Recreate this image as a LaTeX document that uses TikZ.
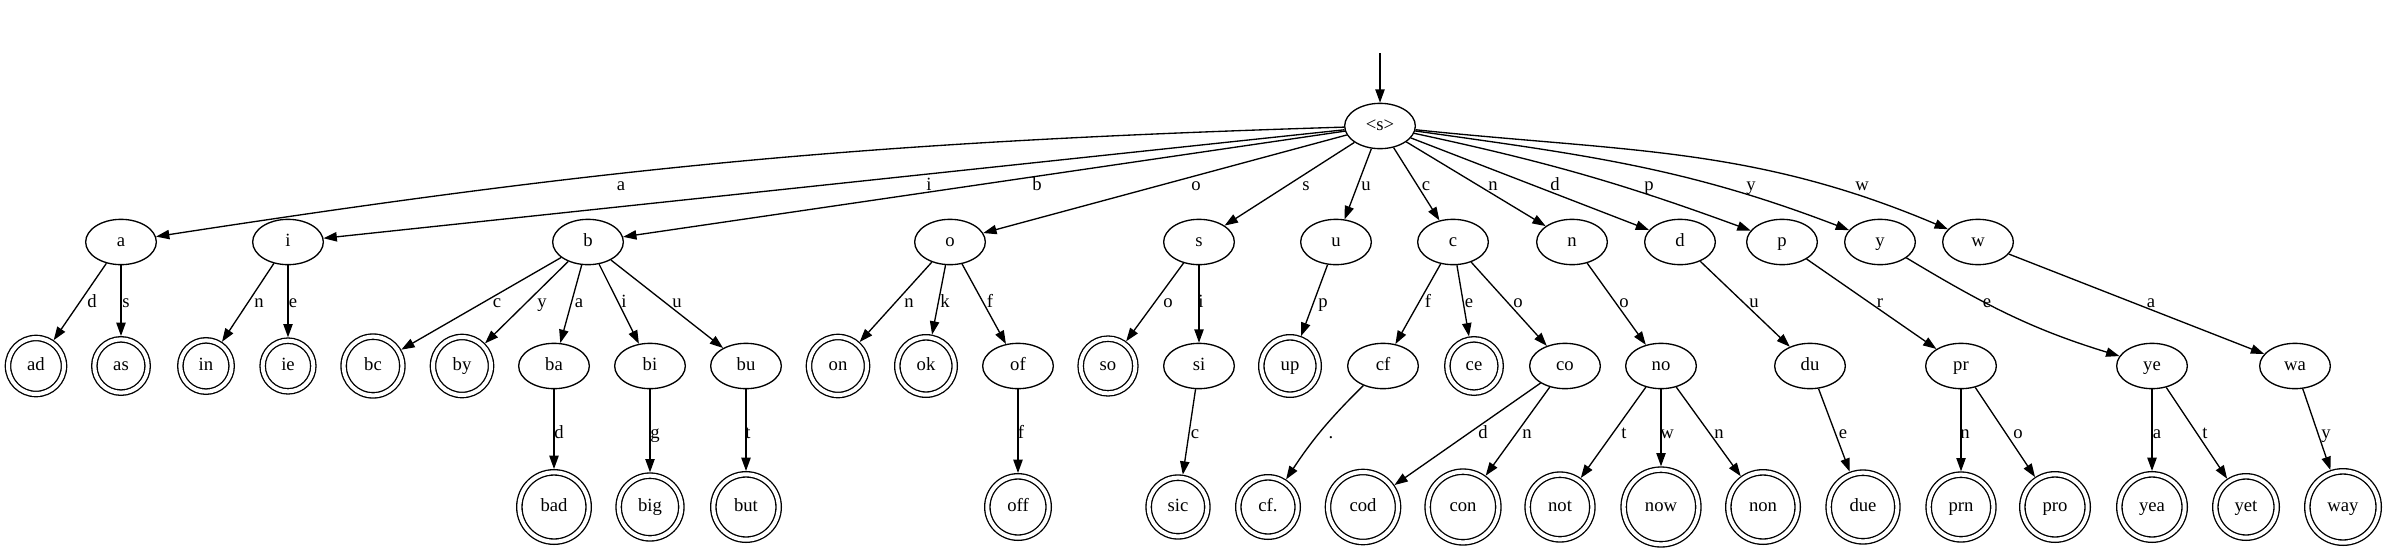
\documentclass[tikz,border=0pt]{standalone}
\usepackage{fontspec}
\setmainfont{Liberation Serif}
\usetikzlibrary{arrows.meta,shapes.geometric}

\begin{document}
\begin{tikzpicture}[x=0.75pt,y=0.75pt,line width=1pt]

    \tikzset{
      trie/.style={
        draw,
        ellipse,
        inner sep=0pt,
        minimum width=53pt,
        minimum height=34pt,
        font=\fontsize{14}{16}\selectfont,
        text height=9.5pt,
        text depth=2.5pt,
      },
      word/.style={
        draw,
        circle,
        double,
        double distance=3pt,
        outer sep=2.5pt,
        inner sep=0pt,
        minimum size=#1,
        font=\fontsize{14}{16}\selectfont,
        text height=9.5pt,
        text depth=2.5pt,
      },
      lbl/.style={
        anchor=base,
        inner sep=0pt,
        font=\fontsize{14}{16}\selectfont,
      },
      link/.style={->,>={Triangle[length=10pt,width=7pt]}},
    }
    \useasboundingbox (0,0) rectangle (2388,-554);

	\coordinate (start) at (1380,-53);
	\node[trie] (root) at (1380,-126) {\textless s\textgreater};

	\node[trie] (a) at (121,-242) {a};
	\node[trie] (i) at (288,-242) {i};
	\node[trie] (b) at (588,-242) {b};
	\node[trie] (o) at (950,-242) {o};
	\node[trie] (s) at (1199,-242) {s};
	\node[trie] (u) at (1336,-242) {u};
	\node[trie] (c) at (1453,-242) {c};
	\node[trie] (n) at (1572,-242) {n};
	\node[trie] (d) at (1680,-242) {d};
	\node[trie] (p) at (1782,-242) {p};
	\node[trie] (y) at (1880,-242) {y};
	\node[trie] (w) at (1978,-242) {w};

	\node[word=42pt] (ad) at (36,-366) {ad};
	\node[word=40pt] (as) at (121,-366) {as};
	\node[word=38.5pt] (in) at (206,-366) {in};
	\node[word=38pt] (ie) at (288,-366) {ie};
	\node[word=44pt] (bc) at (373,-366) {bc};
	\node[word=43.5pt] (by) at (462,-366) {by};
	\node[trie] (ba) at (554,-366) {ba};
	\node[trie] (bi) at (650,-366) {bi};
	\node[trie] (bu) at (746,-366) {bu};
	\node[word=43.5pt] (on) at (838,-366) {on};
	\node[word=43pt] (ok) at (926,-366) {ok};
	\node[trie] (of) at (1018,-366) {of};
	\node[word=41pt] (so) at (1108,-366) {so};
	\node[trie] (si) at (1199,-366) {si};
	\node[word=43pt] (up) at (1290,-366) {up};
	\node[trie] (cf) at (1383,-366) {cf};
	\node[word=40pt] (ce) at (1474,-366) {ce};
	\node[trie] (co) at (1565,-366) {co};
	\node[trie] (no) at (1661,-366) {no};
	\node[trie] (du) at (1810,-366) {du};
	\node[trie] (pr) at (1961,-366) {pr};
	\node[trie] (ye) at (2152,-366) {ye};
	\node[trie] (wa) at (2295,-366) {wa};

	\node[word=52pt] (bad) at (554,-507) {bad};
	\node[word=47pt] (big) at (650,-507) {big};
	\node[word=49pt] (but) at (746,-507) {but};
	\node[word=46pt] (off) at (1018,-507) {off};
	\node[word=44pt] (sic) at (1178,-507) {sic};
	\node[word=44.5pt] (cfp) at (1268,-507) {cf.};
	\node[word=52.5pt] (cod) at (1363,-507) {cod};
	\node[word=53pt] (con) at (1463,-507) {con};
	\node[word=48.5pt] (not) at (1560,-507) {not};
	\node[word=56pt] (now) at (1661,-507) {now};
	\node[word=52pt] (non) at (1763,-507) {non};
	\node[word=51.5pt] (due) at (1863,-507) {due};
	\node[word=48.5pt] (prn) at (1961,-507) {prn};
	\node[word=49pt] (pro) at (2055,-507) {pro};
	\node[word=49pt] (yea) at (2152,-507) {yea};
	\node[word=46pt] (yet) at (2246,-507) {yet};
	\node[word=53.5pt] (way) at (2343,-507) {way};

	\draw[link] (start) -- (root);
	\draw[link] (root) to[bend right=3.5] (a);
	\draw[link] (root) -- (i);
	\draw[link] (root) -- (b);
	\draw[link] (root) -- (o);
	\draw[link] (root) -- (s);
	\draw[link] (root) -- (u);
	\draw[link] (root) -- (c);
	\draw[link] (root) -- (n);
	\draw[link] (root) -- (d);
	\draw[link] (root) to[bend left=4] (p);
	\draw[link] (root) to[out=-8,in=159] (y);
	\draw[link] (root) to[out=-6,in=157] (w);

	\draw[link] (a) -- (ad);
	\draw[link] (a) -- (as);
	\draw[link] (i) -- (in);
	\draw[link] (i) -- (ie);
	\draw[link] (b) -- (bc);
	\draw[link] (b) -- (by);
	\draw[link] (b) -- (ba);
	\draw[link] (b) -- (bi);
	\draw[link] (b) -- (bu);
	\draw[link] (o) -- (on);
	\draw[link] (o) -- (ok);
	\draw[link] (o) -- (of);
	\draw[link] (s) -- (so);
	\draw[link] (s) -- (si);
	\draw[link] (u) -- (up);
	\draw[link] (c) -- (cf);
	\draw[link] (c) -- (ce);
	\draw[link] (c) -- (co);
	\draw[link] (n) -- (no);
	\draw[link] (d) -- (du);
	\draw[link] (p) -- (pr);
	\draw[link] (y) to[out=-31,in=163] (ye);
	\draw[link] (w) -- (wa);

	\draw[link] (ba) -- (bad);
	\draw[link] (bi) -- (big);
	\draw[link] (bu) -- (but);
	\draw[link] (of) -- (off);
	\draw[link] (si) -- (sic);
	\draw[link] (cf) to[bend right=6] (cfp);
	\draw[link] (co) -- (cod);
	\draw[link] (co) -- (con);
	\draw[link] (no) -- (not);
	\draw[link] (no) -- (now);
	\draw[link] (no) -- (non);
	\draw[link] (du) -- (due);
	\draw[link] (pr) -- (prn);
	\draw[link] (pr) -- (pro);
	\draw[link] (ye) -- (yea);
	\draw[link] (ye) -- (yet);
	\draw[link] (wa) -- (way);

	\node[lbl] (la) at (621,-190) {a};
	\node[lbl] (li) at (929,-190) {i};
	\node[lbl] (lb) at (1037,-190) {b};
	\node[lbl] (lo) at (1196,-190) {o};
	\node[lbl] (ls) at (1306,-190) {s};
	\node[lbl] (lu) at (1366,-190) {u};
	\node[lbl] (lc) at (1426,-190) {c};
	\node[lbl] (ln) at (1493,-190) {n};
	\node[lbl] (ld) at (1555,-190) {d};
	\node[lbl] (lp) at (1649,-190) {p};
	\node[lbl] (ly) at (1751,-190) {y};
	\node[lbl] (lw) at (1862,-190) {w};

	\node[lbl] (lad) at (92,-307) {d};
	\node[lbl] (las) at (126,-307) {s};
	\node[lbl] (lin) at (259,-307) {n};
	\node[lbl] (lie) at (293,-307) {e};
	\node[lbl] (lbc) at (497,-307) {c};
	\node[lbl] (lby) at (542,-307) {y};
	\node[lbl] (lba) at (579,-307) {a};
	\node[lbl] (lbi) at (624,-307) {i};
	\node[lbl] (lbu) at (677,-307) {u};
	\node[lbl] (lon) at (909,-307) {n};
	\node[lbl] (lok) at (945,-307) {k};
	\node[lbl] (lof) at (990,-307) {f};
	\node[lbl] (lso) at (1168,-307) {o};
	\node[lbl] (lsi) at (1201,-307) {i};
	\node[lbl] (lup) at (1323,-307) {p};
	\node[lbl] (lcf) at (1428,-307) {f};
	\node[lbl] (lce) at (1469,-307) {e};
	\node[lbl] (lco) at (1518,-307) {o};
	\node[lbl] (lno) at (1624,-307) {o};
	\node[lbl] (ldu) at (1754,-307) {u};
	\node[lbl] (lpr) at (1880,-307) {r};
	\node[lbl] (lye) at (1987,-307) {e};
	\node[lbl] (lwa) at (2151,-307) {a};

	\node[lbl] (lbad) at (559,-438) {d};
	\node[lbl] (lbig) at (655,-438) {g};
	\node[lbl] (lbut) at (748,-438) {t};
	\node[lbl] (loff) at (1021,-438) {f};
	\node[lbl] (lsic) at (1195,-438) {c};
	\node[lbl] (lcfp) at (1331,-438) {.};
	\node[lbl] (lcod) at (1483,-438) {d};
	\node[lbl] (lcon) at (1527,-438) {n};
	\node[lbl] (lnot) at (1624,-438) {t};
	\node[lbl] (lnow) at (1667,-438) {w};
	\node[lbl] (lnon) at (1719,-438) {n};
	\node[lbl] (ldue) at (1843,-438) {e};
	\node[lbl] (lprn) at (1965,-438) {n};
	\node[lbl] (lpro) at (2018,-438) {o};
	\node[lbl] (lyea) at (2157,-438) {a};
	\node[lbl] (lyet) at (2205,-438) {t};
	\node[lbl] (lway) at (2326,-438) {y};

\end{tikzpicture}
\end{document}
